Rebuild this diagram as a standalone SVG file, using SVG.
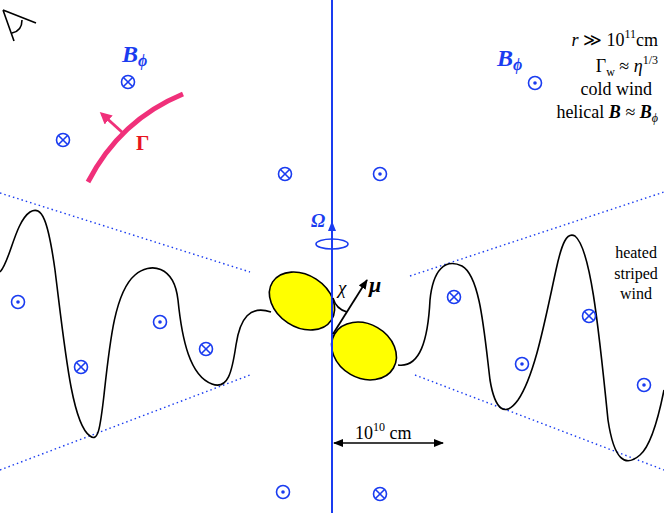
<svg xmlns="http://www.w3.org/2000/svg" width="664" height="513" viewBox="0 0 664 513">
<style>
.b{fill:none;stroke:#1a3cf0;stroke-width:1.6}
.dt{fill:#1a3cf0}
.dl{stroke:#1a3cf0;stroke-width:1.4;stroke-dasharray:1.5 3}
.cv{fill:none;stroke:#000;stroke-width:1.6}
.t{font-family:'Liberation Serif',serif;fill:#000}
.bl{font-family:'Liberation Serif',serif;fill:#1a3cf0;font-weight:bold;font-style:italic}
</style>
<defs>
<g id="od"><circle r="6.5" class="b"/><circle r="1.8" class="dt"/></g>
<g id="ox"><circle r="6.5" class="b"/><path d="M-4.3,-4.3L4.3,4.3M4.3,-4.3L-4.3,4.3" class="b" stroke-width="1.3"/></g>
<marker id="ah" markerWidth="10" markerHeight="8" refX="9" refY="4" orient="auto-start-reverse" markerUnits="userSpaceOnUse"><path d="M0,0L10,4L0,8z" fill="#000"/></marker>
<marker id="ahb" markerWidth="10" markerHeight="8" refX="9" refY="4" orient="auto" markerUnits="userSpaceOnUse"><path d="M0,0L10,4L0,8z" fill="#1a3cf0"/></marker>
<marker id="ahp" markerWidth="12" markerHeight="12" refX="9" refY="6" orient="auto" markerUnits="userSpaceOnUse"><path d="M0,0L12,6L0,12z" fill="#f0307a"/></marker>
</defs>
<rect width="664" height="513" fill="#fff"/>
<g id="dotted">
<line class="dl" x1="0" y1="193" x2="250" y2="272"/>
<line class="dl" x1="0" y1="470" x2="250" y2="375"/>
<line class="dl" x1="410" y1="276" x2="664" y2="192"/>
<line class="dl" x1="415" y1="375" x2="664" y2="470"/>
</g>
<g id="curves">
<path class="cv" d="M271,312 C250,305 240,318 236,345 C232,372 228,390 212,384 C190,376 182,340 178,300 C174,265 150,262 135,275 C115,292 110,340 104,395 C100,430 98,442 90,436 C72,424 65,350 55,270 C48,220 42,205 30,212 C15,222 10,262 0,272"/>
<path class="cv" d="M398,365 C420,368 428,340 430,300 C433,270 445,258 462,266 C480,276 484,330 490,380 C495,410 505,418 518,400 C535,375 545,320 556,270 C562,242 567,232 575,236 C590,248 598,320 608,420 C614,460 625,468 640,455 C652,445 660,410 664,390"/>
</g>
<g id="star">
<ellipse cx="302" cy="301" rx="35" ry="26" transform="rotate(33 302 301)" fill="#ffff00" stroke="#000" stroke-width="1.6"/>
<ellipse cx="364" cy="351" rx="34" ry="27" transform="rotate(30 364 351)" fill="#ffff00" stroke="#000" stroke-width="1.6"/>
</g>
<g id="axis">
<line x1="332" y1="0" x2="332" y2="513" stroke="#1a3cf0" stroke-width="2"/>
<line x1="332" y1="240" x2="332" y2="222" stroke="#1a3cf0" stroke-width="2" marker-end="url(#ahb)"/>
<ellipse cx="332" cy="244" rx="16" ry="5" class="b"/>
<text x="311" y="227" class="bl" font-style="normal" font-size="19">Ω</text>
</g>
<g id="connectors">
<line x1="333" y1="334" x2="367" y2="280" stroke="#000" stroke-width="1.8" marker-end="url(#ah)"/>
<path d="M333,298 A20,20 0 0 0 347,312" class="cv" stroke-width="1.2"/>
<line x1="334" y1="443" x2="443" y2="443" stroke="#000" stroke-width="1.4" marker-end="url(#ah)" marker-start="url(#ah)"/>
<path d="M88,182 Q120,120 183,94" fill="none" stroke="#f0307a" stroke-width="5"/>
<line x1="123" y1="133" x2="102" y2="114" stroke="#f0307a" stroke-width="3" marker-end="url(#ahp)"/>
<path d="M3,10 L36,23 M3,10 L14,41 M12,33 Q22,31 22,20" class="cv" stroke-width="1.4"/>
</g>
<g id="labels">
<text x="338" y="294" class="t" font-style="italic" font-size="19">χ</text>
<text x="369" y="292" class="t" font-style="italic" font-weight="bold" font-size="22">μ</text>
<text x="355" y="439" class="t" font-size="18">10<tspan dy="-8" font-size="12">10</tspan><tspan dy="8"> cm</tspan></text>
<text x="122" y="62" class="bl" font-size="24">B<tspan dy="4" font-size="16">ϕ</tspan></text>
<text x="497" y="66" class="bl" font-size="24">B<tspan dy="4" font-size="16">ϕ</tspan></text>
<text x="136" y="150" font-family="Liberation Serif,serif" font-weight="bold" fill="#e8141e" font-size="21">Γ</text>
<text x="658" y="46" class="t" font-size="18" text-anchor="end"><tspan font-style="italic">r</tspan> ≫ 10<tspan dy="-8" font-size="12">11</tspan><tspan dy="8">cm</tspan></text>
<text x="658" y="72" class="t" font-size="18" text-anchor="end">Γ<tspan dy="4" font-size="12">w</tspan><tspan dy="-4"> ≈ </tspan><tspan font-style="italic">η</tspan><tspan dy="-8" font-size="12">1/3</tspan></text>
<text x="652" y="95" class="t" font-size="18" text-anchor="end">cold wind</text>
<text x="658" y="118" class="t" font-size="18" text-anchor="end">helical <tspan font-weight="bold" font-style="italic">B</tspan> ≈ <tspan font-weight="bold" font-style="italic">B</tspan><tspan dy="4" font-size="12" font-style="italic">ϕ</tspan></text>
<text x="636" y="258" class="t" font-size="16" text-anchor="middle">heated</text>
<text x="636" y="279" class="t" font-size="16" text-anchor="middle">striped</text>
<text x="636" y="299" class="t" font-size="16" text-anchor="middle">wind</text>
</g>
<g id="symbols">
<use href="#ox" x="128" y="82"/><use href="#ox" x="63" y="140"/><use href="#ox" x="285" y="174"/>
<use href="#od" x="380" y="174"/><use href="#od" x="535" y="83"/><use href="#od" x="18" y="302"/>
<use href="#ox" x="81" y="367"/><use href="#od" x="160" y="322"/><use href="#ox" x="206" y="349"/>
<use href="#ox" x="454" y="297"/><use href="#od" x="522" y="364"/><use href="#ox" x="589" y="316"/>
<use href="#od" x="644" y="385"/><use href="#od" x="283" y="492"/><use href="#ox" x="380" y="494"/>
</g>
</svg>
